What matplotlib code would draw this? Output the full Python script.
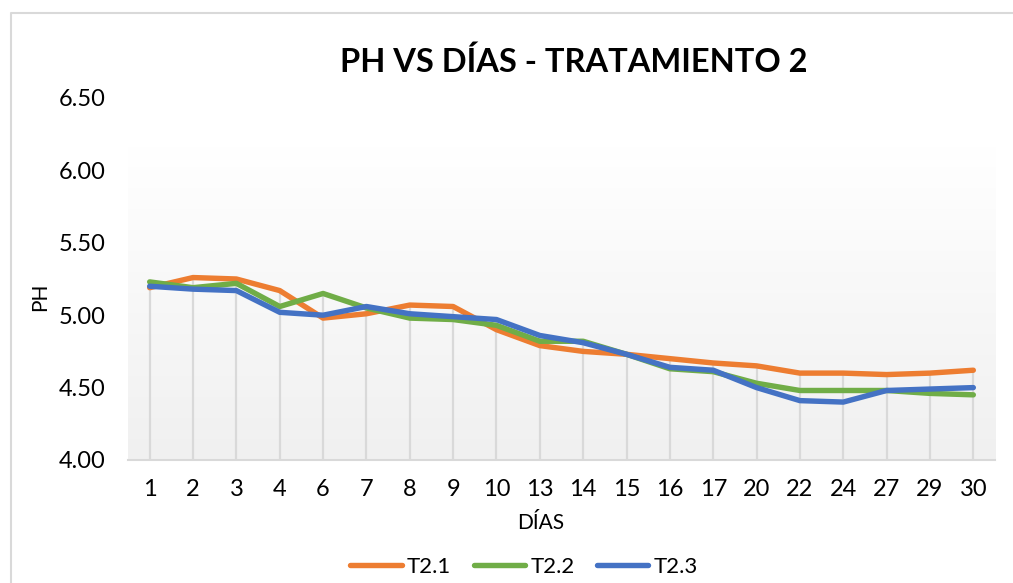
import numpy as np
import matplotlib
matplotlib.use("Agg")
import matplotlib.pyplot as plt
from matplotlib.lines import Line2D

plt.rcParams['font.family'] = ['Lato', 'DejaVu Sans']

days = ["1", "2", "3", "4", "6", "7", "8", "9", "10", "13", "14", "15",
        "16", "17", "20", "22", "24", "27", "29", "30"]
t21 = [5.19, 5.26, 5.25, 5.17, 4.98, 5.01, 5.07, 5.06, 4.90, 4.79, 4.75, 4.73,
       4.70, 4.67, 4.65, 4.60, 4.60, 4.59, 4.60, 4.62]
t22 = [5.23, 5.19, 5.22, 5.06, 5.15, 5.05, 4.98, 4.97, 4.93, 4.82, 4.82, 4.73,
       4.63, 4.61, 4.53, 4.48, 4.48, 4.48, 4.46, 4.45]
t23 = [5.20, 5.18, 5.17, 5.02, 5.00, 5.06, 5.01, 4.99, 4.97, 4.86, 4.81, 4.73,
       4.64, 4.62, 4.50, 4.41, 4.40, 4.48, 4.49, 4.50]
series_names = ["T2.1", "T2.2", "T2.3"]
colors = ["#ED7D31", "#70AD47", "#4472C4"]
yticks = [4.00, 4.50, 5.00, 5.50, 6.00, 6.50]

W, H = 1013, 583
fig = plt.figure(figsize=(W / 100, H / 100), dpi=100)
L, R, B, T = 128, 995, 460, 98
ax = fig.add_axes([L / W, 1 - B / H, (R - L) / W, (B - T) / H])
ax.set_facecolor("none")

x = np.arange(len(days))
ax.set_xlim(-0.5, len(days) - 0.5)
ax.set_ylim(4.0, 6.5)

# gradient background of plot area
grad = np.linspace(0, 1, 256).reshape(-1, 1)
top_c = np.array([1.0, 1.0, 1.0])
bot_c = np.array([0xF0, 0xF0, 0xF0]) / 255
img = top_c + (bot_c - top_c) * grad
gtop = (B - 147) / (B - T)
ax.imshow(img[:, None, :].repeat(2, axis=1), extent=(0, 1, 0, gtop),
          transform=ax.transAxes, aspect="auto", zorder=0)

# drop lines
data = np.array([t21, t22, t23])
ax.vlines(x, 4.0, data.max(axis=0), colors="#D9D9D9", linewidth=1.6, zorder=1)

for vals, c, n in zip([t21, t22, t23], colors, series_names):
    ax.plot(x, vals, color=c, linewidth=3.9, solid_capstyle="round",
            solid_joinstyle="round", zorder=3, label=n)

for s in ["top", "right", "left"]:
    ax.spines[s].set_visible(False)
ax.spines["bottom"].set_color("#D9D9D9")
ax.spines["bottom"].set_linewidth(1.5)
ax.spines["bottom"].set_zorder(2)

ax.set_xticks(x)
ax.set_xticklabels(days)
ax.set_yticks(yticks)
ax.set_yticklabels([f"{v:.2f}" for v in yticks])
ax.tick_params(axis="both", length=0, labelsize=17, colors="black")
ax.tick_params(axis="x", pad=14)
ax.tick_params(axis="y", pad=16)

fig.text(574 / W, 1 - 62 / H, "PH VS DÍAS - TRATAMIENTO 2", ha="center", va="center",
         fontsize=23.5, fontweight="bold")
fig.text(541 / W, 1 - 523 / H, "DÍAS", ha="center", va="center", fontsize=15)
fig.text(40 / W, 1 - 297 / H, "PH", ha="center", va="center", fontsize=15, rotation=90)

handles = [Line2D([0], [0], color=c, linewidth=3.9, solid_capstyle="round") for c in colors]
fig.legend(handles, series_names, loc="center", bbox_to_anchor=(524 / W, 1 - 567 / H),
           ncol=3, frameon=False, fontsize=16, handlelength=2.3, handletextpad=0.25,
           columnspacing=1.0, borderpad=0)

# chart border
fig.add_artist(Line2D([10.5 / W, 10.5 / W, 1], [0, 1 - 12.5 / H, 1 - 12.5 / H],
                      transform=fig.transFigure, color="#D9D9D9", linewidth=1.5))

fig.savefig("out.png", dpi=100)
